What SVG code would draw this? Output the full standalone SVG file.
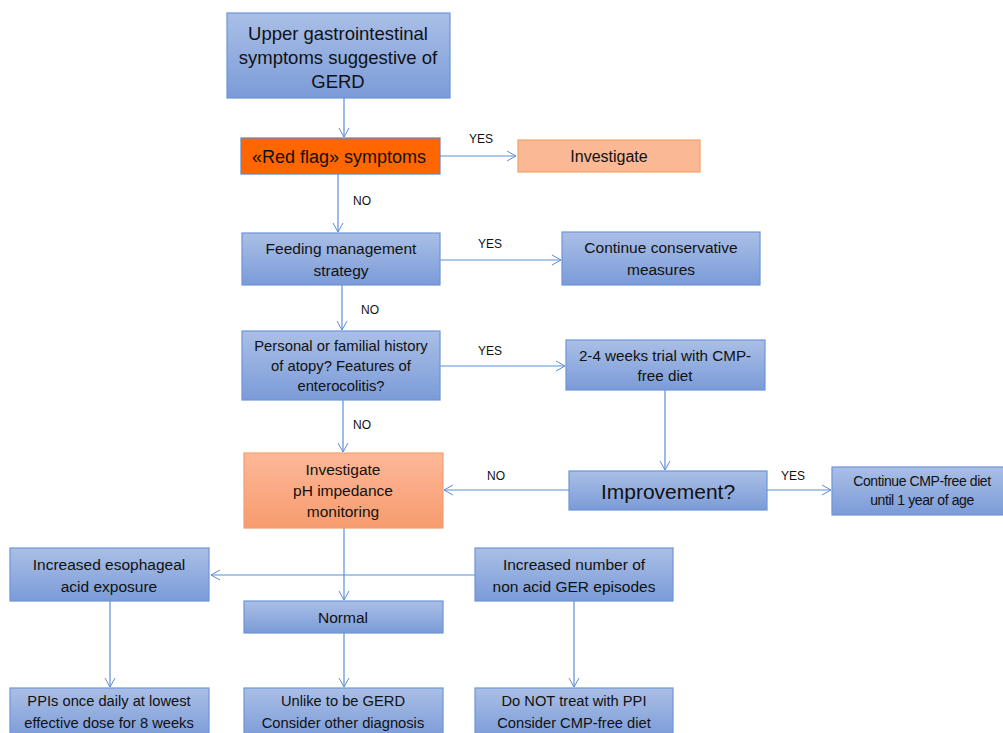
<svg xmlns="http://www.w3.org/2000/svg" width="1003" height="733" viewBox="0 0 1003 733">
<defs>
<linearGradient id="gb" x1="0" y1="0" x2="0" y2="1"><stop offset="0" stop-color="#aabfe6"/><stop offset="1" stop-color="#7b9bd8"/></linearGradient>
<linearGradient id="go" x1="0" y1="0" x2="0" y2="1"><stop offset="0" stop-color="#fdb898"/><stop offset="1" stop-color="#f79b6e"/></linearGradient>
<marker id="ar" markerWidth="12" markerHeight="12" refX="10" refY="6" orient="auto" markerUnits="userSpaceOnUse"><path d="M1,1 L10,6 L1,11" fill="none" stroke="#5b8fd9" stroke-width="1"/></marker>
</defs>
<style>
.b{fill:url(#gb);stroke:#6d95d8;stroke-width:1.2}
.o{fill:url(#go);stroke:#f0a06e;stroke-width:1.2}
text{font-family:"Liberation Sans",Arial,sans-serif;fill:#111;text-anchor:middle}
.t{font-size:15.5px}
.l{font-size:12px}
.c line,.c path{stroke:#5b8fd9;stroke-width:1.2;fill:none;marker-end:url(#ar)}
</style>
<rect width="1003" height="733" fill="#fff"/>
<g class="c" id="connectors">
<line x1="344" y1="98" x2="344" y2="137"/>
<line x1="440" y1="156" x2="516" y2="156"/>
<line x1="338" y1="174" x2="338" y2="232"/>
<line x1="440" y1="260" x2="561" y2="260"/>
<line x1="342" y1="285" x2="342" y2="330"/>
<line x1="440" y1="366" x2="565" y2="366"/>
<line x1="343" y1="400" x2="343" y2="452"/>
<line x1="665" y1="390" x2="665" y2="470"/>
<line x1="569" y1="490" x2="444" y2="490"/>
<line x1="767" y1="490" x2="831" y2="490"/>
<line x1="344" y1="528" x2="344" y2="600"/>
<line x1="475" y1="575" x2="211" y2="575"/>
<line x1="110" y1="601" x2="110" y2="687"/>
<line x1="344" y1="633" x2="344" y2="687"/>
<line x1="574" y1="601" x2="574" y2="687"/>
<text class="l" x="481" y="143">YES</text>
<text class="l" x="362" y="205">NO</text>
<text class="l" x="490" y="248">YES</text>
<text class="l" x="370" y="314">NO</text>
<text class="l" x="490" y="355">YES</text>
<text class="l" x="362" y="429">NO</text>
<text class="l" x="496" y="480">NO</text>
<text class="l" x="793" y="480">YES</text>
</g>
<g id="n1"><rect class="b" x="227" y="13" width="223" height="85"/>
<text x="338" y="40" style="font-size:18.5px">Upper gastrointestinal</text>
<text x="338" y="64" style="font-size:18.5px">symptoms suggestive of</text>
<text x="338" y="88" style="font-size:18.5px">GERD</text></g>
<g id="n2"><rect x="241" y="138" width="199" height="36" fill="#ff6600" stroke="#5b86cc" stroke-width="1.2"/>
<text x="339" y="163" style="font-size:18px">«Red flag» symptoms</text></g>
<g id="n3"><rect x="518" y="140" width="182" height="32" fill="#fbb894" stroke="#f4a26c" stroke-width="1.2"/>
<text x="609" y="162" style="font-size:16px">Investigate</text></g>
<g id="n4"><rect class="b" x="242" y="233" width="198" height="52"/>
<text class="t" x="341" y="254">Feeding management</text>
<text class="t" x="341" y="276">strategy</text></g>
<g id="n5"><rect class="b" x="562" y="232" width="198" height="53"/>
<text class="t" x="661" y="253">Continue conservative</text>
<text class="t" x="661" y="275">measures</text></g>
<g id="n6"><rect class="b" x="242" y="331" width="198" height="69"/>
<text x="341" y="351" style="font-size:14.8px">Personal or familial history</text>
<text x="341" y="371" style="font-size:14.8px">of atopy? Features of</text>
<text x="341" y="391" style="font-size:14.8px">enterocolitis?</text></g>
<g id="n7"><rect class="b" x="566" y="340" width="199" height="50"/>
<text x="665" y="361" style="font-size:15.2px">2-4 weeks trial with CMP-</text>
<text x="665" y="381" style="font-size:15.2px">free diet</text></g>
<g id="n8"><rect class="o" x="244" y="453" width="199" height="75"/>
<text x="343" y="475" style="font-size:15.5px">Investigate</text>
<text x="343" y="496" style="font-size:15.5px">pH impedance</text>
<text x="343" y="517" style="font-size:15.5px">monitoring</text></g>
<g id="n9"><rect class="b" x="569" y="471" width="198" height="39"/>
<text x="668" y="499" style="font-size:21px">Improvement?</text></g>
<g id="n10"><rect class="b" x="832" y="467" width="175" height="48"/>
<text x="922" y="486" style="font-size:14px" letter-spacing="-0.4">Continue CMP-free diet</text>
<text x="922" y="505" style="font-size:14px" letter-spacing="-0.4">until 1 year of age</text></g>
<g id="n11"><rect class="b" x="10" y="548" width="199" height="53"/>
<text class="t" x="109" y="570">Increased esophageal</text>
<text class="t" x="109" y="592">acid exposure</text></g>
<g id="n12"><rect class="b" x="475" y="548" width="198" height="53"/>
<text class="t" x="574" y="570">Increased number of</text>
<text class="t" x="574" y="592">non acid GER episodes</text></g>
<g id="n13"><rect class="b" x="244" y="601" width="199" height="32"/>
<text class="t" x="343" y="623">Normal</text></g>
<g id="n14"><rect class="b" x="10" y="688" width="199" height="50"/>
<text x="109" y="706" style="font-size:14.7px">PPIs once daily at lowest</text>
<text x="109" y="728" style="font-size:14.7px">effective dose for 8 weeks</text></g>
<g id="n15"><rect class="b" x="244" y="688" width="199" height="50"/>
<text x="343" y="706" style="font-size:14.7px">Unlike to be GERD</text>
<text x="343" y="728" style="font-size:14.7px">Consider other diagnosis</text></g>
<g id="n16"><rect class="b" x="475" y="688" width="198" height="50"/>
<text x="574" y="706" style="font-size:14.7px">Do NOT treat with PPI</text>
<text x="574" y="728" style="font-size:14.7px">Consider CMP-free diet</text></g>
</svg>
